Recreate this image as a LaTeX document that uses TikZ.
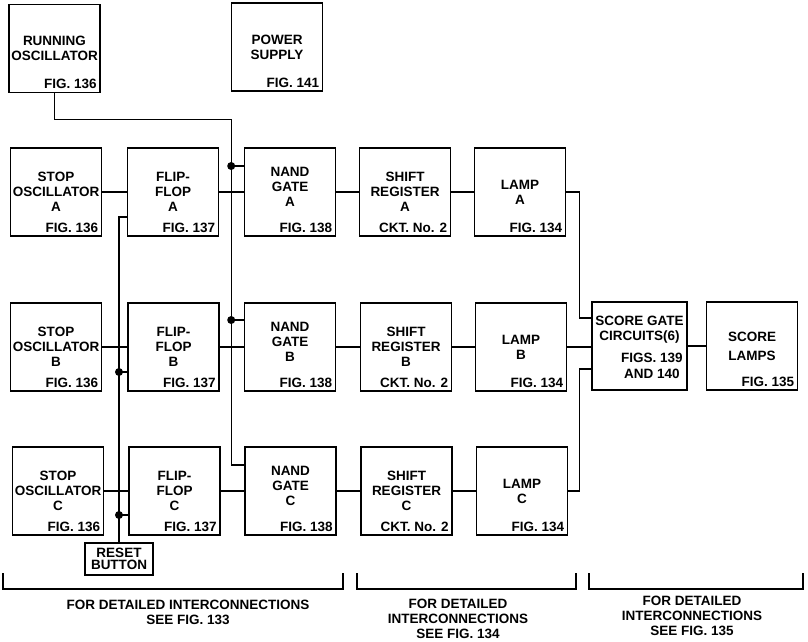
\documentclass[tikz,border=0pt]{standalone}
\usepackage{fontspec}
\setmainfont{Liberation Sans}
\usetikzlibrary{positioning,calc}

\begin{document}
\begin{tikzpicture}[
  x=1pt, y=-1pt,
  blk/.style={draw, line width=1.6pt, minimum width=91pt, minimum height=88pt, inner sep=0pt, align=center, font=\fontsize{13.5}{15}\selectfont\bfseries},
  figlbl/.style={anchor=south east, xshift=-4pt, yshift=4pt, inner sep=0pt, align=center, font=\fontsize{13.5}{15.5}\selectfont\bfseries},
  figref/.style={label={[figlbl]south east:#1}},
  wire/.style={line width=1.4pt},
  dot/.style={circle, fill=black, inner sep=0pt, minimum size=8pt},
  note/.style={align=center, font=\fontsize{13.5}{15}\selectfont\bfseries}
]
\useasboundingbox (0,0) rectangle (808,641);

% Top boxes
\node[blk, figref={FIG. 136}] (runOsc) at (54.5,48.5) {RUNNING\\OSCILLATOR};
\node[blk, figref={FIG. 141}] (power) at (277,47) {POWER\\SUPPLY};

% Row A
\node[blk, figref={FIG. 136}] (stopA) at (56,192) {STOP\\OSCILLATOR\\A};
\node[blk, figref={FIG. 137}] (ffA) at (173,192) {FLIP-\\FLOP\\A};
\node[blk, figref={FIG. 138}] (nandA) at (290,192) {NAND\\GATE\\A\\[-5pt]};
\node[blk, figref={CKT. No. 2}] (shiftA) at (405,192) {SHIFT\\REGISTER\\A};
\node[blk, figref={FIG. 134}] (lampA) at (520,192) {LAMP\\A};

% Row B
\node[blk, figref={FIG. 136}] (stopB) at (56,347) {STOP\\OSCILLATOR\\B};
\node[blk, figref={FIG. 137}] (ffB) at (173.5,347) {FLIP-\\FLOP\\B};
\node[blk, figref={FIG. 138}] (nandB) at (290,347) {NAND\\GATE\\B\\[-5pt]};
\node[blk, figref={CKT. No. 2}] (shiftB) at (406,347) {SHIFT\\REGISTER\\B};
\node[blk, figref={FIG. 134}] (lampB) at (521,347) {LAMP\\B};

% Row C
\node[blk, figref={FIG. 136}] (stopC) at (58,491) {STOP\\OSCILLATOR\\C};
\node[blk, figref={FIG. 137}] (ffC) at (174.5,491) {FLIP-\\FLOP\\C};
\node[blk, figref={FIG. 138}] (nandC) at (290.5,491) {NAND\\GATE\\C\\[-5pt]};
\node[blk, figref={CKT. No. 2}] (shiftC) at (406.5,491) {SHIFT\\REGISTER\\C};
\node[blk, figref={FIG. 134}] (lampC) at (522,491) {LAMP\\C};

% Score boxes
\node[blk, minimum width=95pt] (score) at (639.5,346) {};
\node[note, inner sep=0pt] (scoreTxt) at ([yshift=16pt]score.center) {SCORE GATE\\CIRCUITS(6)};
\node[figlbl, xshift=-1pt, yshift=8pt] (scoreFig) at (score.south east) {FIGS. 139\\AND 140};
\node[blk, figref={FIG. 135}] (scoreLamps) at (752,346) {SCORE\\[4pt]LAMPS};

% Reset button
\node[draw, line width=1.4pt, minimum width=68pt, minimum height=32pt, inner sep=0pt, align=center, font=\fontsize{13.5}{12}\selectfont\bfseries] (reset) at (119,559) {RESET\\BUTTON};

% Row connections
\draw[wire] (stopA) -- (ffA);
\draw[wire] (ffA) -- (nandA);
\draw[wire] (nandA) -- (shiftA);
\draw[wire] (shiftA) -- (lampA);
\draw[wire] (stopB) -- (ffB);
\draw[wire] (ffB) -- (nandB);
\draw[wire] (nandB) -- (shiftB);
\draw[wire] (shiftB) -- (lampB);
\draw[wire] (stopC) -- (ffC);
\draw[wire] (ffC) -- (nandC);
\draw[wire] (nandC) -- (shiftC);
\draw[wire] (shiftC) -- (lampC);

% Running oscillator bus
\coordinate (clkA) at ([yshift=26pt]nandA.west);
\coordinate (clkB) at ([yshift=27pt]nandB.west);
\coordinate (clkC) at ([yshift=26pt]nandC.west);
\node[dot] (dotA) at ([xshift=-12.5pt]clkA) {};
\node[dot] (dotB) at ([xshift=-12.5pt]clkB) {};
\draw[wire] (runOsc.south) -- ++(0,26) -| (dotA.center) -- (dotB.center) |- (clkC);
\draw[wire] (dotA.center) -- (clkA);
\draw[wire] (dotB.center) -- (clkB);

% Reset bus
\coordinate (rstA) at ([yshift=-25pt]ffA.west);
\coordinate (rstB) at ([yshift=-25pt]ffB.west);
\coordinate (rstC) at ([yshift=-24pt]ffC.west);
\node[dot] (dotRB) at (reset.north |- rstB) {};
\node[dot] (dotRC) at (reset.north |- rstC) {};
\draw[wire] (reset.north) |- (rstA);
\draw[wire] (dotRB.center) -- (rstB);
\draw[wire] (dotRC.center) -- (rstC);

% Lamps to score gate
\coordinate (sgA) at ([yshift=28pt]score.west);
\coordinate (sgC) at ([yshift=-23pt]score.west);
\draw[wire] (lampA.east) -- ++(13,0) |- (sgA);
\draw[wire] (lampB.east) -- (lampB.east -| score.west);
\draw[wire] (lampC.east) -- ++(11,0) |- (sgC);
\draw[wire] (score) -- (scoreLamps);

% Brackets
\draw[wire] (3,573) |- (343,589) -- (343,573);
\draw[wire] (357,573) |- (576,589) -- (576,573);
\draw[wire] (589,573) |- (803,589) -- (803,573);

% Notes
\node[note] (noteA) at (188,612) {FOR DETAILED INTERCONNECTIONS\\SEE FIG. 133};
\node[note] (noteB) at (458,619) {FOR DETAILED\\INTERCONNECTIONS\\SEE FIG. 134};
\node[note] (noteC) at (692,616) {FOR DETAILED\\INTERCONNECTIONS\\SEE FIG. 135};

\end{tikzpicture}
\end{document}
